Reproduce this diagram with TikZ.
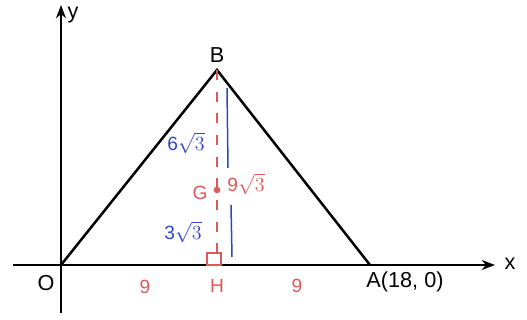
\documentclass[tikz,border=0pt]{standalone}
\usepackage{fontspec}
\setmainfont{Liberation Sans}
\usetikzlibrary{arrows.meta}
\definecolor{rojo}{RGB}{222,88,88}
\definecolor{azul}{RGB}{45,70,200}
\begin{document}
\begin{tikzpicture}[x=0.6pt, y=0.6pt, >={Stealth[length=8pt,width=6pt]},
    font=\fontsize{13}{15}\selectfont,
    eje/.style={line width=1.2pt},
    lado/.style={line width=1.5pt, line join=miter},
    altura/.style={rojo, line width=1.1pt, dash pattern=on 6pt off 7pt},
    tramo/.style={azul, line width=0.9pt},
    mano/.style={text=rojo, inner sep=1pt, font=\fontsize{11.5}{13}\selectfont},
    manoazul/.style={text=azul, inner sep=1pt, font=\fontsize{11.5}{13}\selectfont}]
    \useasboundingbox (0,0) rectangle (527,320);
    % Puntos
    \coordinate (O) at (61,55);
    \coordinate (A) at (370,55);
    \coordinate (B) at (217,250);
    \coordinate (G) at (217,130);
    \coordinate (H) at (217,55);
    \coordinate (xi) at (13,55);
    \coordinate (xf) at (495,55);
    \coordinate (yi) at (61,7);
    \coordinate (yf) at (61,315);
    % Ejes
    \draw[eje, ->] (xi) -- (xf);
    \draw[eje, ->] (yi) -- (yf);
    \node (lx) at (510,56) {x};
    \node (ly) at (73,305) {y};
    % Triangulo
    \draw[lado] (O) -- (B) -- (A);
    \node (lO) at (46,37) {O};
    \node (lA) at (405,38) {A(18, 0)};
    \node (lB) at (217,265) {B};
    % Altura BH y baricentro
    \draw[altura] (B) -- (H);
    \fill[rojo] (G) circle (3.3);
    \draw[rojo, line width=0.9pt] (207,55) rectangle (221,67);
    % Tramos BG y GH
    \coordinate (b1) at (227,232);
    \coordinate (b2) at (228,152);
    \coordinate (b3) at (231,115);
    \coordinate (b4) at (232,63);
    \draw[tramo] (b1) -- (b2);
    \draw[tramo] (b3) -- (b4);
    % Etiquetas a mano
    \node[mano] (lG) at (200,127) {G};
    \node[mano] (lBH) at (246,136) {9$\sqrt{3}$};
    \node[manoazul] (lBG) at (186,177) {6$\sqrt{3}$};
    \node[manoazul] (lGH) at (183,88) {3$\sqrt{3}$};
    \node[mano] (lH) at (217,34) {H};
    \node[mano] (lOH) at (145,33) {9};
    \node[mano] (lHA) at (297,34) {9};
\end{tikzpicture}
\end{document}
